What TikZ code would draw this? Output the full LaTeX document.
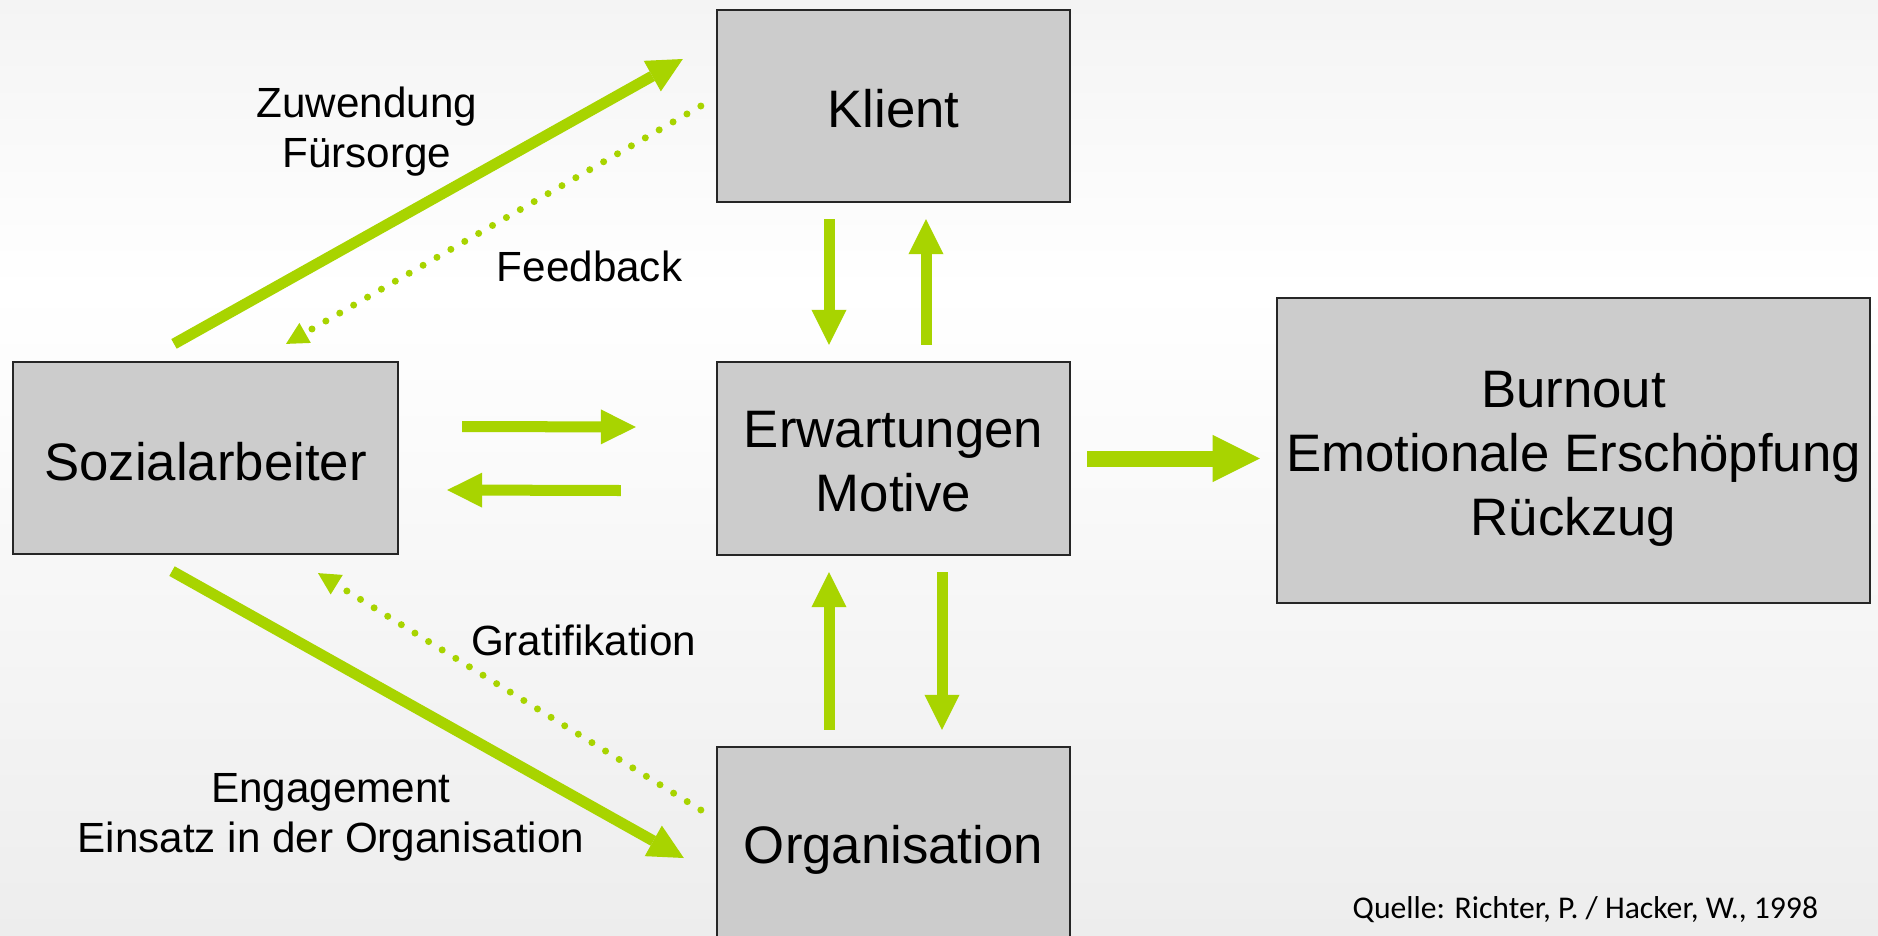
\documentclass[tikz,border=0pt]{standalone}
\usepackage{fontspec}
\setmainfont{Liberation Sans}
\newfontfamily\quellefont{Carlito}
\usepackage{tikz}
\usetikzlibrary{arrows.meta,calc,positioning}
\definecolor{flowgreen}{RGB}{168,212,0}
\definecolor{boxgray}{RGB}{204,204,204}
\definecolor{bgtop}{RGB}{244,244,244}
\definecolor{bgbot}{RGB}{237,237,237}
% box text: last baseline lowered by #1 below the box centre
\newcommand{\boxtext}[2]{%
  \raisebox{-#1}[0pt][0pt]{\begin{tabular}[b]{@{}c@{}}#2\end{tabular}}}
\tikzset{
  box/.style={draw=black!85,line width=0.6pt,fill=boxgray,align=center,
    inner sep=0pt,font=\fontsize{15}{18.2}\selectfont},
  flow/.style={-{Triangle[length=3.5mm,width=3.5mm,line width=0pt]},
    line width=1.1mm,draw=flowgreen},
  bigflow/.style={-{Triangle[length=4.7mm,width=4.7mm,line width=0pt]},
    line width=1.6mm,draw=flowgreen},
  backflow/.style={-{Triangle[length=2.2mm,width=2.3mm,line width=0pt]},
    line width=0.7mm,draw=flowgreen,line cap=round,dash pattern=on 0pt off 1.6mm},
  flowlabel/.style={font=\fontsize{12}{14.2}\selectfont,align=center,inner sep=0pt}
}

\begin{document}
\begin{tikzpicture}[x=0.01cm,y=-0.01cm]
  \useasboundingbox (0,0) rectangle (1878,936);
  \clip (0,0) rectangle (1878,936);
  % soft background
  \fill[top color=bgtop,bottom color=white] (0,0) rectangle (1878,290);
  \fill[top color=white,bottom color=bgbot] (0,290) rectangle (1878,936);

  \node[box,minimum width=3.85cm,minimum height=1.92cm] (soz) at (205.5,458) {\boxtext{6.4pt}{Sozialarbeiter}};
  \node[box,minimum width=3.53cm,minimum height=1.92cm] (klient) at (893.5,106) {\boxtext{6.2pt}{Klient}};
  \node[box,minimum width=3.53cm,minimum height=1.93cm] (erw) at (893.5,458.5) {\boxtext{15.2pt}{Erwartungen\\Motive}};
  \node[box,minimum width=3.53cm,minimum height=1.92cm] (org) at (893.5,843) {\boxtext{5.8pt}{Organisation}};
  \node[box,minimum width=5.93cm,minimum height=3.05cm] (burn) at (1573.5,450.5) {\boxtext{24.1pt}{Burnout\\Emotionale Erschöpfung\\Rückzug}};

  % Sozialarbeiter <-> Klient
  \draw[flow] ([shift={(-31.5,-17)}]soz.north) -- ([shift={(-33,-47)}]klient.west);
  \draw[backflow] ([shift={(-15,0)}]klient.west) -- ([shift={(80.5,-17)}]soz.north);
  \node[flowlabel] (zuw) at (367,132) {Zuwendung\\Fürsorge};
  \node[flowlabel] (fb) at (589.5,266) {Feedback};

  % Sozialarbeiter <-> Organisation
  \draw[flow] ([shift={(-33.5,16)}]soz.south) -- ([shift={(-32,15)}]org.west);
  \draw[backflow] ([shift={(-15,-33)}]org.west) -- ([shift={(112.5,18)}]soz.south);
  \node[flowlabel] (grat) at (583.6,640) {Gratifikation};
  \node[flowlabel] (eng) at (331,817) {Engagement\\Einsatz in der Organisation};

  % Erwartungen in the middle
  \draw[flow] ([shift={(-64.5,16)}]klient.south) -- ([shift={(-64.5,-16)}]erw.north);
  \draw[flow] ([shift={(32.5,-16)}]erw.north) -- ([shift={(32.5,16)}]klient.south);
  \draw[flow] ([shift={(-64.5,-16)}]org.north) -- ([shift={(-64.5,16)}]erw.south);
  \draw[flow] ([shift={(48.5,16)}]erw.south) -- ([shift={(48.5,-16)}]org.north);
  \draw[flow] ([shift={(63,-31.5)}]soz.east) -- ([shift={(-80,-31.5)}]erw.west);
  \draw[flow] ([shift={(-95,32)}]erw.west) -- ([shift={(48,32)}]soz.east);
  \draw[bigflow,shorten <=1.6mm,shorten >=1.6mm] (erw.east) -- (erw.east -| burn.west);

  \node[font=\quellefont\fontsize{9}{10}\selectfont,anchor=base west,inner sep=0pt]
    (quelle) at (1352,918) {Quelle: Richter, P. / Hacker, W., 1998};
\end{tikzpicture}
\end{document}
